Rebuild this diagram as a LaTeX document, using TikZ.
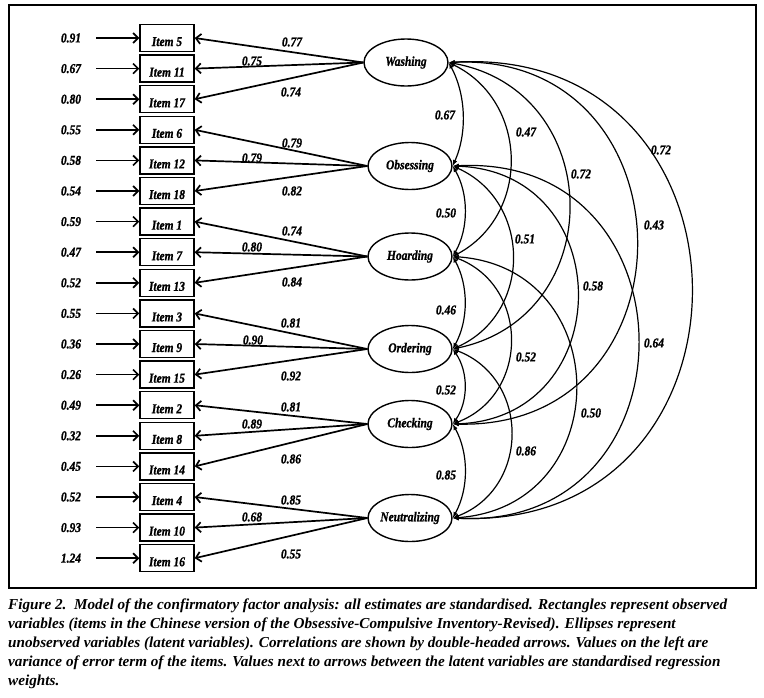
\documentclass[tikz,border=0pt]{standalone}
\usepackage{fontspec}
\setmainfont{Liberation Serif}
\newfontfamily\diagfont{Liberation Serif}[FakeStretch=0.85, FakeBold=1]
\newfontfamily\capfont{Liberation Serif}
\usetikzlibrary{arrows.meta,shapes.geometric}

\tikzset{
  item/.style={draw, line width=1.4pt, minimum width=54pt, minimum height=27pt,
    inner sep=0pt, text height=16pt, text depth=0pt},
  latent/.style={ellipse, draw, line width=1.4pt, minimum width=84pt,
    minimum height=47pt, inner sep=0pt},
  barb/.style={line width=1.7pt, -{Straight Barb[length=5pt,width=10pt]}},
  corr/.style={line width=1.2pt, {Latex[length=6pt,width=4.5pt]}-{Latex[length=6pt,width=4.5pt]}},
  lab/.style={inner sep=0pt}
}

\begin{document}
\begin{tikzpicture}[x=1pt,y=1pt,
    every node/.append style={font=\diagfont\bfseries\itshape\fontsize{13.5}{15}\selectfont}]
  \useasboundingbox (0,0) rectangle (764,-697);
  \draw[line width=1.2pt] (9,-5) rectangle (756,-588);

  % observed items with their error terms
  \foreach \n/\e [count=\i from 0] in {5/0.91,11/0.67,17/0.80,6/0.55,12/0.58,18/0.54,
      1/0.59,7/0.47,13/0.52,3/0.55,9/0.36,15/0.26,2/0.49,8/0.32,14/0.45,4/0.52,10/0.93,16/1.24}{
    \node[item] (i\n) at (167,{-38-30.6*\i}) {Item \n};
    \node[lab] (e\n) at (71,{-38-30.6*\i}) {\e};
    \coordinate (s\n) at (96,{-38-30.6*\i});
    \draw[barb] (s\n) -- (i\n);
  };

  % latent variables
  \node[latent] (wash) at (406,-62.5) {Washing};
  \node[latent] (obse) at (410,-166) {Obsessing};
  \node[latent] (hoar) at (410,-256.5) {Hoarding};
  \node[latent] (orde) at (410,-349) {Ordering};
  \node[latent] (chec) at (410,-424) {Checking};
  \node[latent] (neut) at (410,-518) {Neutralizing};

  % loadings
  \foreach \f/\a/\b/\c in {wash/5/11/17, obse/6/12/18, hoar/1/7/13,
      orde/3/9/15, chec/2/8/14, neut/4/10/16}{
    \draw[barb] (\f.west) -- (i\a.east);
    \draw[barb] (\f.west) -- (i\b.east);
    \draw[barb] (\f.west) -- (i\c.east);
  };
  \foreach \v/\x/\y [count=\k] in {0.77/292/42, 0.75/252/61, 0.74/291/92,
      0.79/292/143, 0.79/252/158, 0.82/292/191,
      0.74/292/231, 0.80/252/247, 0.84/292/282,
      0.81/291/323, 0.90/253/340, 0.92/291/376,
      0.81/291/407, 0.89/252/424, 0.86/291/459,
      0.85/291/500, 0.68/252/517, 0.55/291/554}{
    \node[lab] (w\k) at (\x,-\y) {\v};
  };

  % correlations
  \foreach \a/\b/\t/\l in {wash/obse/26/0.9, obse/hoar/30/0.91, hoar/orde/29/0.91,
      orde/chec/35/0.94, chec/neut/29/0.91,
      wash/hoar/63/1.17, obse/orde/66/1.22, hoar/chec/69/1.26, orde/neut/69/1.26,
      wash/orde/79/1.43, obse/chec/88/1.65, hoar/neut/86/1.61,
      wash/chec/92/1.75, obse/neut/93/1.8, wash/neut/93/1.8}{
    \draw[corr] (\a.east) to[bend left=\t, looseness=\l] (\b.east);
  };
  \foreach \v/\x/\y [count=\k] in {0.67/445/115, 0.50/446/213, 0.46/446/310,
      0.52/446/390, 0.85/446/475, 0.47/526/132, 0.51/525/239, 0.52/526/357,
      0.86/526/451, 0.72/581/174, 0.58/593/286, 0.50/591/413,
      0.43/654/225, 0.64/654/343, 0.72/661/150}{
    \node[lab] (r\k) at (\x,-\y) {\v};
  };

  % caption
  \node[anchor=north west, align=left, inner sep=0pt,
    font=\capfont\bfseries\itshape\fontsize{15.2}{19}\selectfont] (cap) at (8,-599)
    {Figure 2.\enspace Model of the confirmatory factor analysis: all estimates are standardised. Rectangles represent observed\\
     variables (items in the Chinese version of the Obsessive-Compulsive Inventory-Revised). Ellipses represent\\
     unobserved variables (latent variables). Correlations are shown by double-headed arrows. Values on the left are\\
     variance of error term of the items. Values next to arrows between the latent variables are standardised regression\\
     weights.};
\end{tikzpicture}
\end{document}
